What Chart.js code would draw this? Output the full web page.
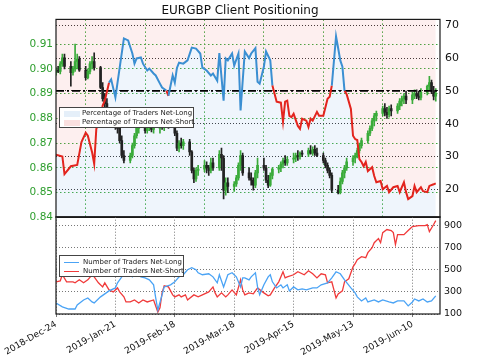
<!DOCTYPE html>
<html><head><meta charset="utf-8">
<script src="https://cdn.jsdelivr.net/npm/chart.js@4/dist/chart.umd.min.js"></script>
<style>
html,body{margin:0;padding:0;background:#fff;}
#wrap{position:relative;width:480px;height:357px;overflow:hidden;font-family:"DejaVu Sans",sans-serif;}
#top{position:absolute;left:0;top:0;}
#bot{position:absolute;left:0;top:207px;}
.legend{position:absolute;background:#fff;border:1px solid #444;font-size:7px;color:#222;box-sizing:border-box;z-index:5;}
.row{position:absolute;left:0;white-space:nowrap;line-height:9px;height:9px;}
.patch{position:absolute;left:4px;top:2px;width:16px;height:6px;}
.lsamp{position:absolute;left:4px;top:4px;width:15px;height:0;border-top:1.3px solid;}
.txt{position:absolute;top:0;}
</style></head>
<body><div id="wrap">
<canvas id="top" width="480" height="229"></canvas>
<canvas id="bot" width="480" height="150"></canvas>
<div class="legend" style="left:59px;top:107px;width:135px;height:21px;">
 <div class="row" style="top:1px;"><div class="patch" style="background:#cfe1f4;background-image:radial-gradient(#fff 0.6px,transparent 0.8px);background-size:2px 2px;"></div><span class="txt" style="left:22px;">Percentage of Traders Net-Long</span></div>
 <div class="row" style="top:10px;"><div class="patch" style="background:#f6c4c4;background-image:radial-gradient(#fff 0.6px,transparent 0.8px);background-size:2px 2px;"></div><span class="txt" style="left:22px;">Percentage of Traders Net-Short</span></div>
</div>
<div class="legend" style="left:59px;top:255px;width:125px;height:22px;">
 <div class="row" style="top:2px;"><div class="lsamp" style="border-color:#4aa3f5;"></div><span class="txt" style="left:23px;">Number of Traders Net-Long</span></div>
 <div class="row" style="top:11px;"><div class="lsamp" style="border-color:#f03a3a;"></div><span class="txt" style="left:23px;">Number of Traders Net-Short</span></div>
</div>
</div>
<script>
// ---- data (x = days since 2018-12-24) ----
const tickDays = [0, 28, 56, 84, 112, 140, 168];
const tickLabels = ['2018-Dec-24','2019-Jan-21','2019-Feb-18','2019-Mar-18','2019-Apr-15','2019-May-13','2019-Jun-10'];
const priceTicks = [0.84,0.85,0.86,0.87,0.88,0.89,0.90,0.91];
const pctTicks = [20,30,40,50,60,70];
const countTicks = [100,200,300,400,500,600,700,800,900];
const neutralPct = 50;

const candleOpen = [
 .8985,.8995,.8990,.9020,.9045, .9010,.8985,.9000,.9030,.9040, .8995,.8965,.8990,.9020,.9030,
 .9005,.8925,.8880,.8860,.8810, .8790,.8770,.8760,.8710,.8650, .8630,.8650,.8690,.8730,.8760,
 .8765,.8750,.8765,.8770,.8755, .8760,.8775,.8770,.8785,.8780, .8770,.8740,.8680,.8700,.8690,
 .8705,.8665,.8590,.8555,.8590, .8595,.8610,.8600,.8590,.8620, .8600,.8655,.8640,.8510,.8540,
 .8525,.8535,.8560,.8610,.8650, .8580,.8560,.8550,.8530,.8580, .8610,.8600,.8550,.8530,.8570,
 .8595,.8600,.8615,.8630,.8620, .8635,.8640,.8650,.8645,.8660, .8655,.8670,.8660,.8675,.8660,
 .8650,.8630,.8610,.8590,.8570, .8510,.8500,.8545,.8580,.8600, .8625,.8640,.8650,.8670,.8690,
 .8710,.8740,.8760,.8790,.8810, .8820,.8840,.8825,.8815,.8840, .8830,.8850,.8870,.8880,.8890,
 .8875,.8895,.8900,.8890,.8885, .8905,.8930,.8945,.8910,.8890];
const candleHigh = [
 .9005,.9010,.9030,.9060,.9060, .9030,.9010,.9100,.9060,.9050, .9010,.9000,.9030,.9050,.9065,
 .9010,.8945,.8900,.8880,.8830, .8810,.8790,.8770,.8730,.8670, .8660,.8700,.8740,.8770,.8780,
 .8780,.8775,.8780,.8790,.8775, .8790,.8800,.8795,.8810,.8800, .8785,.8750,.8710,.8720,.8715,
 .8715,.8670,.8600,.8600,.8610, .8630,.8625,.8610,.8640,.8640, .8670,.8680,.8650,.8560,.8560,
 .8545,.8570,.8620,.8670,.8660, .8600,.8580,.8560,.8590,.8640, .8640,.8610,.8570,.8580,.8600,
 .8610,.8625,.8640,.8650,.8645, .8660,.8660,.8670,.8665,.8670, .8680,.8690,.8685,.8690,.8680,
 .8660,.8640,.8620,.8600,.8580, .8530,.8560,.8590,.8610,.8640, .8650,.8660,.8680,.8700,.8720,
 .8750,.8770,.8800,.8820,.8830, .8850,.8860,.8845,.8850,.8855, .8860,.8880,.8890,.8900,.8910,
 .8905,.8915,.8915,.8910,.8920, .8935,.8970,.8955,.8930,.8920];
const candleLow = [
 .8975,.8985,.8980,.9010,.9000, .8930,.8975,.8990,.9000,.8990, .8955,.8960,.8980,.9000,.8995,
 .8920,.8870,.8840,.8800,.8780, .8755,.8740,.8700,.8640,.8620, .8620,.8640,.8680,.8720,.8740,
 .8740,.8740,.8750,.8745,.8740, .8740,.8755,.8750,.8765,.8760, .8730,.8670,.8665,.8680,.8675,
 .8650,.8580,.8540,.8545,.8570, .8585,.8580,.8570,.8580,.8590, .8590,.8590,.8475,.8490,.8500,
 .8505,.8525,.8550,.8590,.8570, .8550,.8530,.8510,.8520,.8560, .8590,.8540,.8520,.8525,.8555,
 .8580,.8585,.8600,.8610,.8610, .8620,.8625,.8630,.8635,.8645, .8645,.8655,.8650,.8650,.8645,
 .8620,.8600,.8580,.8560,.8500, .8495,.8495,.8535,.8560,.8590, .8610,.8620,.8640,.8660,.8680,
 .8700,.8730,.8750,.8770,.8790, .8810,.8810,.8800,.8805,.8810, .8820,.8835,.8850,.8860,.8860,
 .8860,.8880,.8880,.8875,.8875, .8895,.8915,.8900,.8875,.8870];
const candleClose = [
 .8995,.8990,.9020,.9045,.9010, .8985,.9000,.9030,.9040,.8995, .8965,.8990,.9020,.9030,.9005,
 .8925,.8880,.8860,.8810,.8790, .8770,.8760,.8710,.8650,.8630, .8650,.8690,.8730,.8760,.8765,
 .8750,.8765,.8770,.8755,.8760, .8775,.8770,.8785,.8780,.8770, .8740,.8680,.8700,.8690,.8705,
 .8665,.8590,.8555,.8590,.8595, .8610,.8600,.8590,.8620,.8600, .8655,.8640,.8510,.8540,.8525,
 .8535,.8560,.8610,.8650,.8580, .8560,.8550,.8530,.8580,.8610, .8600,.8550,.8530,.8570,.8595,
 .8600,.8615,.8630,.8620,.8635, .8640,.8650,.8645,.8660,.8655, .8670,.8660,.8675,.8660,.8650,
 .8630,.8610,.8590,.8570,.8510, .8500,.8545,.8580,.8600,.8625, .8640,.8650,.8670,.8690,.8710,
 .8740,.8760,.8790,.8810,.8820, .8840,.8825,.8815,.8840,.8830, .8850,.8870,.8880,.8890,.8875,
 .8895,.8900,.8890,.8885,.8905, .8930,.8945,.8910,.8890,.8900];

const pctDay = [0,3,4,7,10,12,14,15,17,18,19,21,22,23,25,26,28,29,30,32,34,36,37,38,40,41,43,44,46,47,49,50,52,53,55,56,57,58,60,62,64,66,68,69,71,73,74,76,77,79,80,81,83,84,86,87,89,91,92,94,95,96,98,99,101,102,104,106,107,108,109,110,111,112,114,115,116,118,119,120,121,123,124,126,128,129,130,132,133,134,135,136,137,139,140,141,142,143,144,145,146,147,149,150,151,153,154,156,157,159,161,162,164,165,166,168,169,170,172,173,175,176,178,179];
const pctNetLong = [30.5,30,24.6,27,27.4,34.4,37.2,36.3,31.3,27.7,38.4,41.5,45.5,47,52.5,53.5,48,52.5,57,66,65.4,61.4,58.3,59.9,60.2,58.3,56.2,56.8,55.3,54.7,52.2,51,50.1,48.5,54.7,52.5,57,58.6,58.3,59.3,63.2,62.9,61.4,57.1,56.2,54.7,55.3,53.1,61.5,47,59.9,59.3,61.4,57.7,61.4,44,62,60,61.4,63,52.8,52.2,57.4,62,59.3,51.6,46.7,46.4,40.6,46.7,47,42.4,42,43,39.3,38.4,41.5,40.9,39,41.5,40.9,43.6,42.4,42.4,47.6,48.2,51.6,66.6,63,59.3,57.4,50,49,44.5,36.3,35.3,35,29.2,28.3,27,28.3,25.5,26.7,24,22.1,22.5,20,21,19.1,20.6,21,19.1,22.1,19.1,17,17.9,21,19.1,20.6,19.4,19.1,21,21.5,21.8];

const longDay = [0,3,6,9,10,13,15,17,18,21,23,25,28,29,31,33,36,37,40,42,44,46,47,48,50,51,54,56,58,60,62,64,66,67,69,72,74,76,77,79,81,83,85,87,88,89,91,92,94,95,96,98,100,101,102,104,106,107,109,110,112,114,116,118,121,123,125,128,130,132,134,136,139,141,142,144,146,147,150,152,154,157,159,161,164,166,168,169,171,173,175,177,179];
const longCount = [200,164,145,145,182,227,245,209,200,255,282,309,336,382,436,473,436,473,436,427,409,364,245,136,273,345,364,391,436,455,500,518,500,473,455,464,436,382,455,345,455,473,436,345,427,427,409,436,473,345,273,364,436,455,391,336,364,336,364,309,345,318,327,318,336,336,364,382,427,482,464,409,336,291,255,218,245,209,227,209,227,209,200,218,218,173,209,236,218,236,209,218,264];
const shortDay = [0,2,3,5,8,9,11,13,15,17,18,20,22,23,25,27,29,30,32,33,35,37,39,41,43,46,48,49,50,51,53,55,56,58,59,61,62,65,67,69,72,74,75,76,78,80,81,83,85,87,88,89,91,93,95,98,100,101,103,105,107,108,109,112,114,117,119,121,123,125,127,128,130,132,133,135,136,138,140,141,142,144,146,147,149,150,152,153,154,156,158,159,160,161,164,166,167,168,171,174,175,176,178,179];
const shortCount = [391,400,455,391,391,382,409,382,409,455,436,382,345,382,318,300,336,300,255,209,209,227,200,227,209,227,118,155,291,355,345,273,255,273,255,273,227,273,255,273,300,345,291,255,291,255,273,318,273,409,318,273,291,282,336,291,264,273,336,391,482,427,436,455,482,455,491,464,427,464,455,382,391,245,282,309,391,418,527,555,591,618,609,655,700,745,782,745,836,864,855,836,727,818,818,855,873,891,900,900,909,845,909,945];

// ---- build ----
const candleDay = [];
for (let w = 0; w < 26; w++) for (let k = 0; k < 5; k++) candleDay.push(7 * w + k);
const UP = '#3aab3a', DOWN = '#222222';
const candleColors = candleClose.map((c, i) => c >= candleOpen[i] ? UP : DOWN);
const wickPts = candleDay.map((d, i) => ({x: d, y: [candleLow[i], candleHigh[i]]}));
const bodyPts = candleDay.map((d, i) => ({x: d, y: [Math.min(candleOpen[i], candleClose[i]), Math.max(candleOpen[i], candleClose[i])]}));
const pctPts = pctDay.map((d, i) => ({x: d, y: pctNetLong[i]}));
const refPts = [{x: 0, y: neutralPct}, {x: 181, y: neutralPct}];
const BLUE = '#3b8fd2', RED = '#e3241d';
const FONT = '"DejaVu Sans", sans-serif';
const X_MAX = 181;

const frame = {
  id: 'frame',
  afterDraw(chart) {
    const a = chart.chartArea, c = chart.ctx;
    c.save(); c.strokeStyle = '#1a1a1a'; c.lineWidth = 1.2;
    c.strokeRect(a.left, a.top, a.right - a.left, a.bottom - a.top);
    c.restore();
  }
};
const setTicks = arr => s => { s.ticks = arr.map(v => ({value: v})); };

new Chart(document.getElementById('top'), {
  type: 'bar',
  data: { datasets: [
    {type: 'line', data: pctPts, yAxisID: 'yPct', fill: 'start', backgroundColor: 'rgba(150,190,232,0.15)', borderWidth: 0, pointRadius: 0, order: 20},
    {type: 'line', data: pctPts, yAxisID: 'yPct', fill: 'end', backgroundColor: 'rgba(240,120,120,0.12)', borderWidth: 0, pointRadius: 0, order: 19},
    {type: 'bar', data: wickPts, yAxisID: 'yPrice', backgroundColor: candleColors, barThickness: 1, grouped: false, order: 10},
    {type: 'bar', data: bodyPts, yAxisID: 'yPrice', backgroundColor: candleColors, barThickness: 2, grouped: false, minBarLength: 1, order: 9},
    {type: 'line', data: refPts, yAxisID: 'yPct', borderColor: '#000', borderWidth: 1.6, borderDash: [8, 3, 2, 3], pointRadius: 0, order: 2},
    {type: 'line', data: pctPts, yAxisID: 'yPct', borderColor: BLUE, borderWidth: 2, pointRadius: 0, tension: 0,
     segment: {borderColor: c => ((c.p0.parsed.y + c.p1.parsed.y) / 2 >= neutralPct ? BLUE : RED)}, order: 1}
  ]},
  options: {
    responsive: false, animation: false, events: [],
    layout: {padding: {bottom: 1}},
    plugins: {
      legend: {display: false}, tooltip: {enabled: false},
      title: {display: true, text: 'EURGBP Client Positioning', color: '#111', font: {family: FONT, size: 12, weight: 'normal'}, padding: {top: 4, bottom: 1}}
    },
    scales: {
      x: {type: 'linear', min: 0, max: X_MAX, offset: false, afterBuildTicks: setTicks(tickDays),
          afterFit: s => { s.height = 0; },
          ticks: {display: false}, grid: {color: '#3aa63a', drawTicks: false, lineWidth: 1},
          border: {display: false, dash: [1.5, 2.5]}},
      yPrice: {position: 'left', min: 0.84, max: 0.92, afterBuildTicks: setTicks(priceTicks),
          afterFit: s => { s.width = 56; },
          ticks: {color: '#2e9e2e', font: {family: FONT, size: 10.5}, padding: 3, callback: v => v.toFixed(2)},
          grid: {color: '#3aa63a', drawTicks: false}, border: {display: false, dash: [1.5, 2.5]}},
      yPct: {position: 'right', min: 11.4, max: 71.8, afterBuildTicks: setTicks(pctTicks),
          afterFit: s => { s.width = 40; },
          ticks: {color: '#111', font: {family: FONT, size: 11}, padding: 5},
          grid: {color: '#333', drawTicks: false}, border: {display: false, dash: [1, 2]}}
    }
  },
  plugins: [frame]
});

new Chart(document.getElementById('bot'), {
  type: 'line',
  data: { datasets: [
    {label: 'Number of Traders Net-Long', data: longDay.map((d, i) => ({x: d, y: longCount[i]})), borderColor: '#4aa3f5', borderWidth: 1.3, pointRadius: 0, yAxisID: 'yCount'},
    {label: 'Number of Traders Net-Short', data: shortDay.map((d, i) => ({x: d, y: shortCount[i]})), borderColor: '#f03a3a', borderWidth: 1.3, pointRadius: 0, yAxisID: 'yCount'}
  ]},
  options: {
    responsive: false, animation: false, events: [],
    layout: {padding: {top: 1}},
    plugins: {legend: {display: false}, tooltip: {enabled: false}},
    scales: {
      x: {type: 'linear', min: 0, max: X_MAX, afterBuildTicks: setTicks(tickDays),
          afterFit: s => { s.height = 43; },
          ticks: {autoSkip: false, minRotation: 30, maxRotation: 30, color: '#111', font: {family: FONT, size: 9}, padding: 2,
                  callback: v => tickLabels[tickDays.indexOf(v)]},
          grid: {color: '#777', drawTicks: true, tickLength: 3}, border: {display: false, dash: [1, 2]}},
      yLeft: {position: 'left', afterFit: s => { s.width = 56; }, ticks: {display: false}, grid: {display: false}, border: {display: false}},
      yCount: {position: 'right', min: 100, max: 980, afterBuildTicks: setTicks(countTicks),
          afterFit: s => { s.width = 40; },
          ticks: {color: '#111', font: {family: FONT, size: 9.5}, padding: 4},
          grid: {color: '#777', drawTicks: false}, border: {display: false, dash: [1, 2]}}
    }
  },
  plugins: [frame]
});
</script>
</body></html>
